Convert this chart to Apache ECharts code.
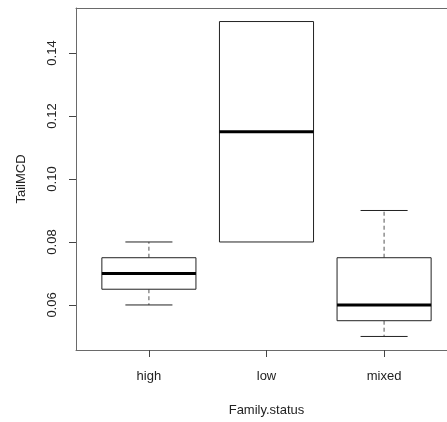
<!DOCTYPE html>
<html><head><meta charset="utf-8">
<script src="https://cdn.jsdelivr.net/npm/echarts@6/dist/echarts.min.js"></script>
<style>html,body{margin:0;padding:0;background:#fff}#c{width:447px;height:422px}</style>
</head><body><div id="c"></div>
<script>
const categories = ['high', 'low', 'mixed'];
const positions = [1, 2, 3];
const mins = [0.06, 0.08, 0.05];
const q1s = [0.065, 0.08, 0.055];
const medians = [0.07, 0.115, 0.06];
const q3s = [0.075, 0.15, 0.075];
const maxs = [0.08, 0.15, 0.09];
const yTicks = [0.06, 0.08, 0.10, 0.12, 0.14];

const data = positions.map((p, i) => [p, mins[i], q1s[i], medians[i], q3s[i], maxs[i]]);
const font = 'Liberation Sans, Arial, sans-serif';
const frameColor = '#6a6a6a';
const chart = echarts.init(document.getElementById('c'), null, {renderer: 'canvas'});
chart.setOption({
  animation: false,
  grid: {left: 76, top: 8, width: 381, height: 342, outerBoundsMode: 'none', containLabel: false, show: false},
  xAxis: [{
    type: 'value', min: 0.38, max: 3.62, position: 'bottom',
    name: 'Family.status', nameLocation: 'middle', nameGap: 54,
    nameTextStyle: {fontFamily: font, fontSize: 13, color: '#222'},
    axisLine: {show: true, onZero: false, lineStyle: {color: frameColor, width: 1}},
    splitLine: {show: false},
    axisTick: {show: true, length: 7, lineStyle: {color: '#444'}, customValues: positions},
    axisLabel: {fontFamily: font, fontSize: 13, color: '#222', margin: 20, customValues: positions,
      formatter: v => categories[positions.indexOf(v)] || ''}
  }, {
    type: 'value', min: 0.38, max: 3.62, position: 'top',
    axisLine: {show: true, onZero: false, lineStyle: {color: frameColor, width: 1}},
    axisTick: {show: false}, axisLabel: {show: false}, splitLine: {show: false}
  }],
  yAxis: {
    type: 'value', min: 0.0457, max: 0.1543,
    name: 'TailMCD', nameLocation: 'middle', nameGap: 48, nameRotate: 90,
    nameTextStyle: {fontFamily: font, fontSize: 13, color: '#222'},
    axisLine: {show: true, onZero: false, lineStyle: {color: frameColor, width: 1}},
    splitLine: {show: false},
    axisTick: {show: true, length: 7, lineStyle: {color: '#444'}, customValues: yTicks},
    axisLabel: {fontFamily: font, fontSize: 13, color: '#222', rotate: 90, margin: 17, customValues: yTicks,
      formatter: v => v.toFixed(2)}
  },
  series: [{
    type: 'custom',
    xAxisIndex: 0,
    data: data,
    encode: {x: 0, y: [1, 2, 3, 4, 5]},
    renderItem: function (params, api) {
      const x = api.value(0);
      const halfBox = api.size([0.4, 0])[0];
      const halfCap = api.size([0.2, 0])[0];
      const cx = api.coord([x, 0])[0];
      const yMin = api.coord([x, api.value(1)])[1];
      const yQ1 = api.coord([x, api.value(2)])[1];
      const yMed = api.coord([x, api.value(3)])[1];
      const yQ3 = api.coord([x, api.value(4)])[1];
      const yMax = api.coord([x, api.value(5)])[1];
      const dashStyle = {stroke: '#555', lineWidth: 1, lineDash: [4, 3]};
      const solid = {stroke: '#222', lineWidth: 1};
      const children = [];
      if (yMax < yQ3) {
        children.push({type: 'line', shape: {x1: cx, y1: yQ3, x2: cx, y2: yMax}, style: dashStyle});
        children.push({type: 'line', shape: {x1: cx - halfCap, y1: yMax, x2: cx + halfCap, y2: yMax}, style: solid});
      }
      if (yMin > yQ1) {
        children.push({type: 'line', shape: {x1: cx, y1: yQ1, x2: cx, y2: yMin}, style: dashStyle});
        children.push({type: 'line', shape: {x1: cx - halfCap, y1: yMin, x2: cx + halfCap, y2: yMin}, style: solid});
      }
      children.push({type: 'rect', shape: {x: cx - halfBox, y: yQ3, width: 2 * halfBox, height: yQ1 - yQ3}, style: {fill: '#fff', stroke: '#222', lineWidth: 1}});
      children.push({type: 'line', shape: {x1: cx - halfBox, y1: yMed, x2: cx + halfBox, y2: yMed}, style: {stroke: '#000', lineWidth: 3}});
      return {type: 'group', children: children};
    }
  }]
});
</script></body></html>
